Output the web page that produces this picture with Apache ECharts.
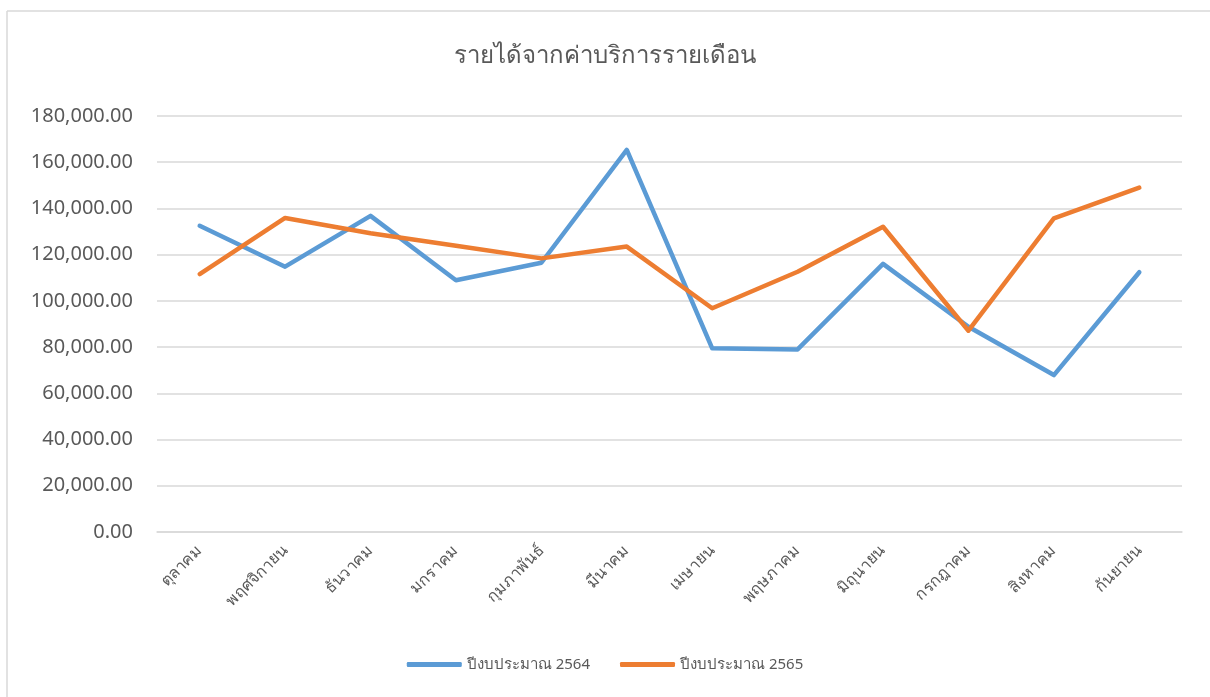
<!DOCTYPE html>
<html>
<head>
<meta charset="utf-8">
<script src="https://cdn.jsdelivr.net/npm/echarts@6/dist/echarts.min.js"></script>
<style>
  html, body { margin: 0; padding: 0; background: #fff; }
  #chart { width: 1210px; height: 697px; }
</style>
</head>
<body>
<div id="chart"></div>
<script>
const titleText = 'รายได้จากค่าบริการรายเดือน';
const months = ['ตุลาคม', 'พฤศจิกายน', 'ธันวาคม', 'มกราคม', 'กุมภาพันธ์', 'มีนาคม', 'เมษายน', 'พฤษภาคม', 'มิถุนายน', 'กรกฎาคม', 'สิงหาคม', 'กันยายน'];
const seriesNames = ['ปีงบประมาณ 2564', 'ปีงบประมาณ 2565'];
const fy2564 = [132500, 114800, 136800, 108900, 116500, 165300, 79500, 79000, 116000, 88800, 67900, 112400];
const fy2565 = [111600, 135900, 129300, 123900, 118400, 123500, 96800, 112600, 132100, 87100, 135700, 149000];
const yMin = 0, yMax = 180000, yStep = 20000;

const fontFam = '"Noto Sans", "DejaVu Sans", sans-serif';
const chart = echarts.init(document.getElementById('chart'), null, { renderer: 'canvas' });

function fmt(v) {
  return Number(v).toLocaleString('en-US', { minimumFractionDigits: 2, maximumFractionDigits: 2 });
}

chart.setOption({
  backgroundColor: '#ffffff',
  animation: false,
  color: ['#5B9BD5', '#ED7D31'],
  title: {
    text: titleText,
    left: 'center',
    top: 39,
    textStyle: { fontSize: 24, fontWeight: 'normal', color: '#595959', fontFamily: fontFam }
  },
  graphic: [
    { type: 'line', shape: { x1: 7, y1: 11, x2: 1210, y2: 11 }, style: { stroke: '#d9d9d9', lineWidth: 1.5 } },
    { type: 'line', shape: { x1: 7, y1: 11, x2: 7, y2: 697 }, style: { stroke: '#d9d9d9', lineWidth: 1.5 } }
  ],
  legend: {
    data: seriesNames,
    bottom: 20,
    left: 'center',
    icon: 'roundRect',
    itemWidth: 55,
    itemHeight: 5,
    itemGap: 30,
    textStyle: { fontSize: 15, color: '#595959', fontFamily: fontFam }
  },
  grid: { left: 157, right: 28, top: 116, bottom: 165, containLabel: false },
  xAxis: {
    type: 'category',
    data: months,
    boundaryGap: true,
    axisLine: { show: true, lineStyle: { color: '#d9d9d9', width: 1.5 } },
    axisTick: { show: false },
    axisLabel: { rotate: 45, fontSize: 16, color: '#595959', margin: 16, fontFamily: fontFam, interval: 0 }
  },
  yAxis: {
    type: 'value',
    min: yMin,
    max: yMax,
    interval: yStep,
    axisLine: { show: false },
    axisTick: { show: false },
    splitLine: { lineStyle: { color: '#d9d9d9', width: 1.5 } },
    axisLabel: { fontSize: 20, color: '#595959', margin: 24, fontFamily: fontFam, formatter: fmt }
  },
  series: [
    {
      name: seriesNames[0], type: 'line', data: fy2564,
      symbol: 'none', lineStyle: { width: 4.5, cap: 'round', join: 'round' }
    },
    {
      name: seriesNames[1], type: 'line', data: fy2565,
      symbol: 'none', lineStyle: { width: 4.5, cap: 'round', join: 'round' }
    }
  ]
});
</script>
</body>
</html>
